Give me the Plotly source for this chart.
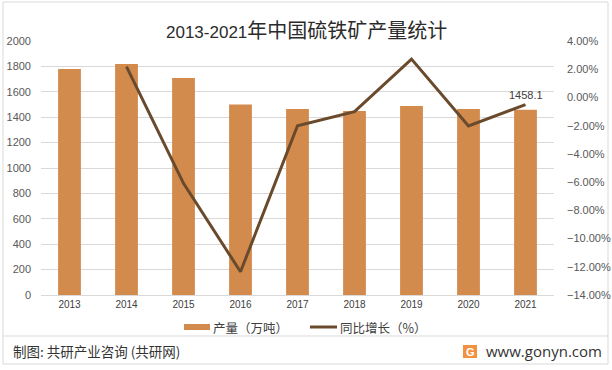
import plotly.graph_objects as go

years = ["2013", "2014", "2015", "2016", "2017", "2018", "2019", "2020", "2021"]
output = [1780, 1819, 1709, 1500, 1465, 1449, 1488, 1465, 1458.1]
growth = [None, 0.0218, -0.0609, -0.1235, -0.0200, -0.0101, 0.0272, -0.0202, -0.0051]
left_ticks = list(range(0, 2001, 200))
right_ticks = [0.04, 0.02, 0.0, -0.02, -0.04, -0.06, -0.08, -0.10, -0.12, -0.14]
series_names = ["产量（万吨）", "同比增长（%）"]

W, H = 612, 370
L, R, T, B = 41, 554, 41, 295
def px(x):
    return (x - L) / (R - L)
def py(y):
    return (B - y) / (B - T)

BAR = "#D38B4D"
LINE = "#6A4A2C"
TXT = "#595959"
FONT = "Noto Sans CJK SC, Liberation Sans, sans-serif"
NUM = "Liberation Sans, sans-serif"

fig = go.Figure()
fig.add_trace(go.Bar(x=years, y=output, name=series_names[0], marker_color=BAR,
                     width=0.4, yaxis="y", showlegend=False))
fig.add_trace(go.Scatter(x=years, y=growth, name=series_names[1], mode="lines",
                         line=dict(color=LINE, width=3), yaxis="y2", showlegend=False))

fig.add_annotation(x=len(years) - 1, y=output[-1], xref="x", yref="y", text=str(output[-1]),
                   showarrow=False, yanchor="bottom", yshift=7,
                   font=dict(size=11, color="#404040", family=NUM))

# title
fig.add_annotation(x=px(306), y=py(29), xref="paper", yref="paper",
                   text='<span style="font-family:Liberation Sans;font-size:17px">2013-2021</span>年中国硫铁矿产量统计',
                   showarrow=False, xanchor="center", yanchor="middle",
                   font=dict(size=20, color="#2b2b2b", family=FONT))

# legend (drawn manually to match the wide swatch)
fig.add_shape(type="rect", xref="paper", yref="paper",
              x0=px(184), x1=px(210), y0=py(330), y1=py(324),
              fillcolor=BAR, line=dict(width=0))
fig.add_annotation(x=px(211), y=py(327), xref="paper", yref="paper",
                   text=series_names[0], showarrow=False, xanchor="left", yanchor="middle",
                   font=dict(size=12.5, color="#404040", family=FONT))
fig.add_shape(type="line", xref="paper", yref="paper",
              x0=px(310), x1=px(337), y0=py(327), y1=py(327),
              line=dict(color=LINE, width=3))
fig.add_annotation(x=px(338), y=py(327), xref="paper", yref="paper",
                   text=series_names[1], showarrow=False, xanchor="left", yanchor="middle",
                   font=dict(size=12.5, color="#404040", family=FONT))

# footer
fig.add_annotation(x=px(11), y=py(351), xref="paper", yref="paper",
                   text="制图: 共研产业咨询 (共研网)", showarrow=False,
                   xanchor="left", yanchor="middle",
                   font=dict(size=13.5, color="#333333", family=FONT))
fig.add_annotation(x=px(484), y=py(351), xref="paper", yref="paper",
                   text="www.gonyn.com", showarrow=False,
                   xanchor="left", yanchor="middle",
                   font=dict(size=15, color="#333333", family="Open Sans, Liberation Sans, sans-serif"))
fig.add_shape(type="rect", xref="paper", yref="paper",
              x0=px(463), x1=px(477), y0=py(358), y1=py(345),
              fillcolor="#F2913F", line=dict(width=0))
fig.add_annotation(x=px(470), y=py(351.5), xref="paper", yref="paper",
                   text="<b>G</b>", showarrow=False, xanchor="center", yanchor="middle",
                   font=dict(size=11, color="white", family=NUM))

# frame and separator
fig.add_shape(type="rect", xref="paper", yref="paper",
              x0=px(3), x1=px(608), y0=py(364), y1=py(2),
              line=dict(color="#d9d9d9", width=1), fillcolor="rgba(0,0,0,0)", layer="below")
fig.add_shape(type="line", xref="paper", yref="paper",
              x0=px(3), x1=px(608), y0=py(336), y1=py(336),
              line=dict(color="#d9d9d9", width=1))

fig.update_layout(
    template="none",
    width=W, height=H,
    margin=dict(l=L, r=W - R, t=T, b=H - B, pad=0, autoexpand=False),
    paper_bgcolor="white", plot_bgcolor="white",
    font=dict(family=FONT, color=TXT),
    showlegend=False,
    xaxis=dict(type="category", range=[-0.5, len(years) - 0.5], showline=True,
               linecolor="#d9d9d9", linewidth=1, automargin=False,
               ticks="", tickfont=dict(size=10, color="#404040", family=NUM),
               showgrid=False),
    yaxis=dict(range=[0, 2000], tickvals=left_ticks, showgrid=True, gridcolor="#d9d9d9",
               gridwidth=1, zeroline=False, ticks="", ticklabelstandoff=9, automargin=False,
               showline=False,
               tickfont=dict(size=11, color=TXT, family=NUM)),
    yaxis2=dict(range=[-0.14, 0.04], tickvals=right_ticks, tickformat=".2%",
                overlaying="y", side="right", showgrid=False, zeroline=False, ticks="",
                ticklabelstandoff=12, automargin=False, showline=False,
                tickfont=dict(size=11, color=TXT, family=NUM)),
)

fig.write_html("out.html", config={"displayModeBar": False},
               post_script="document.body.style.margin='0';document.body.style.overflow='hidden';")
